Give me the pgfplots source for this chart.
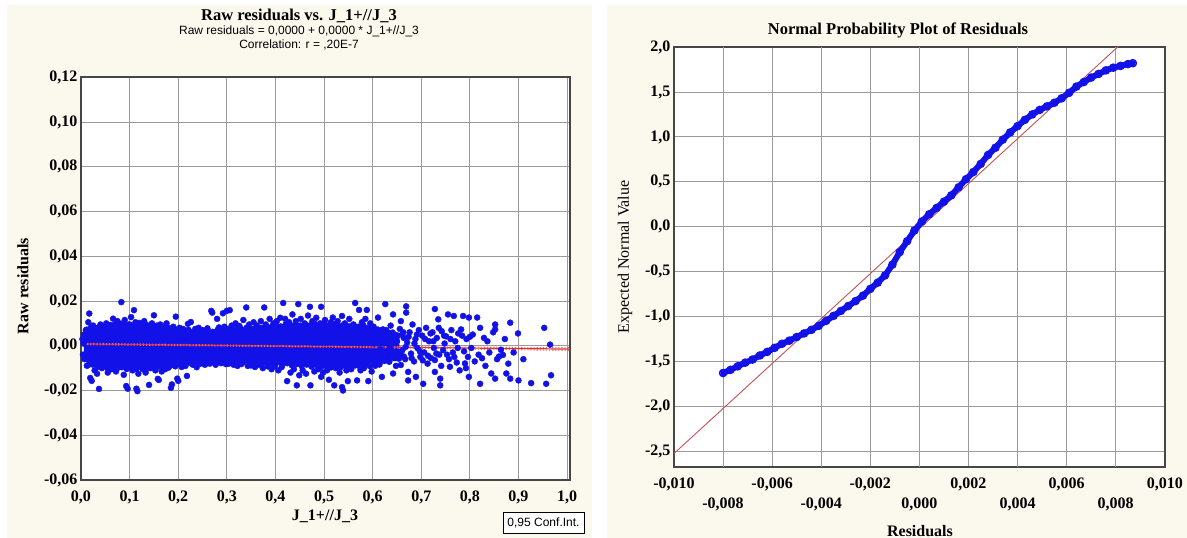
\documentclass[border=0pt]{standalone}
\usepackage{fontspec}
\setmainfont{Liberation Serif}
\setsansfont{Liberation Sans}
\usepackage{pgfplots}
\pgfplotsset{compat=1.18}
\definecolor{panel}{RGB}{251,248,238}
\definecolor{dotblue}{RGB}{18,18,232}
\definecolor{fitred}{RGB}{222,48,48}
\definecolor{linered}{RGB}{196,84,84}
\definecolor{gridgray}{RGB}{155,155,155}
\definecolor{framegray}{RGB}{70,70,70}

\pgfplotsset{
  panelstyle/.style={
    scale only axis, anchor=south west,
    axis background/.style={fill=white},
    axis line style={framegray, line width=1.3pt},
    grid=major, major grid style={gridgray, line width=0.9pt},
    major tick length=0pt, tick style={draw=none},
    scaled ticks=false,
    tick label style={font=\fontsize{16}{18}\selectfont\bfseries},
    x tick label style={yshift=-7pt},
  }
}

\begin{document}
\begin{tikzpicture}[x=1pt,y=1pt]
\path[use as bounding box] (0,0) rectangle (1187,538);
\fill[white] (0,0) rectangle (1187,538);
\fill[panel] (7,0) rectangle (592,533);
\fill[panel] (607,0) rectangle (1187,533);

% ---- left: raw residuals vs J_1+//J_3
\begin{axis}[panelstyle, at={(81pt,58pt)}, width=489pt, height=403pt,
  xmin=0, xmax=1.006, ymin=-0.06, ymax=0.1201,
  xtick={0,0.1,0.2,0.3,0.4,0.5,0.6,0.7,0.8,0.9,1.0},
  xticklabels={{0,0},{0,1},{0,2},{0,3},{0,4},{0,5},{0,6},{0,7},{0,8},{0,9},{1,0}},
  ytick={-0.06,-0.04,-0.02,0,0.02,0.04,0.06,0.08,0.10,0.12},
  yticklabels={{-0,06},{-0,04},{-0,02},{0,00},{0,02},{0,04},{0,06},{0,08},{0,10},{0,12}},
]
% dense core of the cloud
\addplot[draw=none, fill=dotblue] coordinates {
 (0.006,0.0055) (0.015,0.0075) (0.04,0.0078) (0.07,0.0085) (0.10,0.0085) (0.13,0.0082)
 (0.16,0.0075) (0.19,0.0068) (0.22,0.0062) (0.25,0.0058) (0.28,0.0062) (0.31,0.0068)
 (0.34,0.0072) (0.37,0.0078) (0.40,0.0082) (0.43,0.0088) (0.46,0.0088) (0.49,0.0090)
 (0.52,0.0088) (0.55,0.0085) (0.58,0.0082) (0.61,0.0070) (0.635,0.0055) (0.655,0.004)
 (0.655,-0.004) (0.635,-0.0060) (0.61,-0.0075) (0.58,-0.0085) (0.55,-0.0088) (0.52,-0.0088)
 (0.49,-0.0085) (0.46,-0.0082) (0.43,-0.0078) (0.40,-0.0072) (0.37,-0.0068) (0.34,-0.0065)
 (0.31,-0.0062) (0.28,-0.0065) (0.25,-0.0068) (0.22,-0.0075) (0.19,-0.0085) (0.16,-0.0092)
 (0.13,-0.0095) (0.10,-0.0095) (0.07,-0.0092) (0.04,-0.0088) (0.015,-0.0080) (0.006,-0.0060)
} -- cycle;
% points along the edge of the core
\addplot[only marks, mark=*, mark size=3pt, mark options={draw=dotblue, fill=dotblue}] coordinates {
 (0.012,0.0072) (0.021,0.0085) (0.031,0.0079) (0.041,0.0088) (0.051,0.0082) (0.061,0.0093)
 (0.071,0.0087) (0.081,0.0095) (0.091,0.0087) (0.101,0.0094) (0.111,0.0086) (0.121,0.0092)
 (0.131,0.0084) (0.141,0.0089) (0.151,0.0079) (0.161,0.0084) (0.171,0.0075) (0.181,0.0079)
 (0.191,0.0070) (0.201,0.0075) (0.211,0.0066) (0.221,0.0071) (0.231,0.0063) (0.241,0.0068)
 (0.251,0.0060) (0.261,0.0068) (0.271,0.0062) (0.281,0.0071) (0.291,0.0066) (0.301,0.0075)
 (0.311,0.0070) (0.321,0.0078) (0.331,0.0073) (0.341,0.0081) (0.351,0.0076) (0.361,0.0085)
 (0.371,0.0080) (0.381,0.0088) (0.391,0.0083) (0.401,0.0091) (0.411,0.0086) (0.421,0.0095)
 (0.431,0.0090) (0.441,0.0097) (0.451,0.0090) (0.461,0.0097) (0.471,0.0091) (0.481,0.0098)
 (0.491,0.0092) (0.501,0.0099) (0.511,0.0091) (0.521,0.0097) (0.531,0.0089) (0.541,0.0095)
 (0.551,0.0087) (0.561,0.0093) (0.571,0.0085) (0.581,0.0091) (0.591,0.0080) (0.601,0.0083)
 (0.611,0.0072) (0.621,0.0073) (0.631,0.0060) (0.641,0.0059) (0.651,0.0045) (0.661,0.0050)
 (0.014,-0.0088) (0.024,-0.0084) (0.034,-0.0096) (0.044,-0.0090) (0.054,-0.0099) (0.064,-0.0093)
 (0.074,-0.0102) (0.084,-0.0096) (0.094,-0.0104) (0.104,-0.0097) (0.114,-0.0104) (0.124,-0.0097)
 (0.134,-0.0104) (0.144,-0.0096) (0.154,-0.0102) (0.164,-0.0093) (0.174,-0.0098) (0.184,-0.0089)
 (0.194,-0.0092) (0.204,-0.0082) (0.214,-0.0086) (0.224,-0.0076) (0.234,-0.0080) (0.244,-0.0070)
 (0.254,-0.0076) (0.264,-0.0068) (0.274,-0.0074) (0.284,-0.0066) (0.294,-0.0072) (0.304,-0.0064)
 (0.314,-0.0071) (0.324,-0.0065) (0.334,-0.0073) (0.344,-0.0067) (0.354,-0.0075) (0.364,-0.0069)
 (0.374,-0.0077) (0.384,-0.0072) (0.394,-0.0080) (0.404,-0.0074) (0.414,-0.0084) (0.424,-0.0078)
 (0.434,-0.0088) (0.444,-0.0082) (0.454,-0.0091) (0.464,-0.0084) (0.474,-0.0093) (0.484,-0.0086)
 (0.494,-0.0095) (0.504,-0.0088) (0.514,-0.0097) (0.524,-0.0090) (0.534,-0.0097) (0.544,-0.0090)
 (0.554,-0.0097) (0.564,-0.0088) (0.574,-0.0095) (0.584,-0.0086) (0.594,-0.0091) (0.604,-0.0078)
 (0.614,-0.0084) (0.624,-0.0068) (0.634,-0.0070) (0.644,-0.0055) (0.654,-0.0058) (0.664,-0.0048)
};
% scattered points
\addplot[only marks, mark=*, mark size=3pt, mark options={draw=dotblue, fill=dotblue}] coordinates {
 (0.003,0.0030) (0.004,-0.0040) (0.006,0.0050) (0.007,-0.0060) (0.005,0.0010) (0.010,0.0070)
 (0.012,-0.0089) (0.015,0.0105) (0.017,0.0144) (0.019,-0.0144) (0.022,-0.0157) (0.025,0.0090)
 (0.028,-0.0110) (0.030,0.0080) (0.033,-0.0125) (0.037,-0.0193) (0.040,0.0095) (0.043,-0.0100)
 (0.046,0.0085) (0.050,-0.0092) (0.052,0.0100) (0.055,-0.0120) (0.058,0.0090) (0.062,-0.0105)
 (0.065,-0.0104) (0.066,0.0121) (0.070,0.0095) (0.072,-0.0115) (0.075,0.0110) (0.078,-0.0095)
 (0.080,0.0090) (0.083,0.0195) (0.086,0.0100) (0.088,-0.0130) (0.090,0.0115) (0.093,-0.0180)
 (0.096,-0.0192) (0.098,0.0095)
 (0.103,0.0128) (0.106,-0.0110) (0.109,0.0159) (0.112,0.0105) (0.114,-0.0192) (0.116,-0.0203)
 (0.118,-0.0125) (0.120,0.0102) (0.124,0.0095) (0.127,-0.0105) (0.130,0.0110) (0.133,-0.0120)
 (0.136,0.0092) (0.140,-0.0175) (0.143,-0.0100) (0.146,0.0100) (0.150,0.0136) (0.153,-0.0110)
 (0.156,0.0090) (0.158,-0.0148) (0.160,-0.0153) (0.163,0.0095) (0.166,-0.0115) (0.170,0.0085)
 (0.173,-0.0105) (0.176,0.0100) (0.180,-0.0098) (0.185,-0.0188) (0.187,-0.0173) (0.190,0.0085)
 (0.195,0.0130) (0.198,-0.0147) (0.200,-0.0157)
 (0.203,0.0080) (0.207,-0.0095) (0.210,0.0075) (0.215,-0.0090) (0.218,-0.0135) (0.220,0.0098)
 (0.226,0.0106) (0.230,-0.0085) (0.235,0.0075) (0.238,-0.0096) (0.242,0.0080) (0.246,-0.0080)
 (0.250,0.0070) (0.255,-0.0085) (0.260,0.0078) (0.265,-0.0080) (0.268,0.0156) (0.270,0.0148)
 (0.274,-0.0075) (0.277,-0.0085) (0.280,0.0120) (0.284,0.0082) (0.288,-0.0078) (0.292,0.0145)
 (0.295,0.0085) (0.298,-0.0082) (0.300,0.0156)
 (0.304,-0.0080) (0.306,0.0159) (0.310,0.0090) (0.314,-0.0085) (0.318,0.0100) (0.322,-0.0090)
 (0.326,0.0088) (0.330,-0.0082) (0.334,0.0115) (0.340,0.0171) (0.343,-0.0090) (0.346,0.0095)
 (0.350,-0.0088) (0.355,0.0105) (0.358,-0.0095) (0.362,0.0090) (0.366,-0.0085) (0.370,0.0110)
 (0.374,-0.0100) (0.377,0.0171) (0.380,0.0095) (0.384,-0.0092) (0.388,0.0120) (0.392,-0.0105)
 (0.396,0.0100) (0.399,-0.0090)
 (0.403,0.0110) (0.406,-0.0110) (0.410,0.0125) (0.413,-0.0095) (0.416,0.0191) (0.420,0.0120)
 (0.424,-0.0158) (0.428,0.0105) (0.431,-0.0120) (0.435,0.0140) (0.438,-0.0105) (0.442,0.0110)
 (0.444,-0.0177) (0.447,0.0186) (0.449,-0.0132) (0.452,0.0120) (0.456,-0.0110) (0.460,0.0100)
 (0.463,-0.0125) (0.467,0.0135) (0.471,0.0174) (0.472,-0.0177) (0.476,0.0110) (0.480,-0.0115)
 (0.484,0.0125) (0.488,-0.0105) (0.492,0.0100) (0.494,0.0174) (0.494,-0.0139) (0.498,-0.0120)
 (0.502,0.0115) (0.506,-0.0110) (0.510,-0.0152) (0.514,0.0105) (0.518,0.0126) (0.521,-0.0177)
 (0.524,-0.0100) (0.528,0.0110) (0.532,-0.0120) (0.537,0.0133) (0.537,-0.0185) (0.539,-0.0200)
 (0.543,0.0100) (0.546,-0.0110) (0.549,-0.0158) (0.552,0.0120) (0.556,-0.0105) (0.560,0.0095)
 (0.564,0.0191) (0.568,-0.0155) (0.572,0.0160) (0.575,-0.0110) (0.578,0.0105) (0.582,-0.0100)
 (0.585,0.0120) (0.588,0.0160) (0.591,-0.0158) (0.595,0.0100) (0.598,-0.0115)
 (0.602,0.0085) (0.605,-0.0090) (0.608,0.0060) (0.611,0.0126) (0.614,-0.0075) (0.617,0.0040)
 (0.619,-0.0139) (0.622,-0.0050) (0.626,0.0186) (0.628,0.0070) (0.631,-0.0060) (0.634,-0.0071)
 (0.637,0.0090) (0.640,-0.0030) (0.642,0.0140) (0.642,-0.0124) (0.645,0.0050) (0.648,-0.0090)
 (0.650,0.0020) (0.653,-0.0045) (0.656,0.0075) (0.658,0.0110) (0.658,-0.0086) (0.661,-0.0020)
 (0.664,0.0035) (0.667,-0.0060) (0.669,0.0176) (0.669,0.0148) (0.671,0.0015) (0.673,-0.0117)
 (0.673,-0.0155) (0.676,0.0060) (0.679,-0.0035) (0.682,0.0095) (0.685,-0.0070) (0.688,0.0030)
 (0.689,-0.0139) (0.692,-0.0010) (0.695,0.0070) (0.698,-0.0050)
 (0.603,0.0010) (0.607,-0.0030) (0.612,0.0025) (0.616,-0.0015) (0.621,0.0045) (0.625,-0.0035)
 (0.630,0.0015) (0.636,-0.0010) (0.641,0.0030) (0.646,-0.0055) (0.652,0.0045) (0.657,-0.0030)
 (0.663,0.0060) (0.668,-0.0005) (0.674,0.0040) (0.680,-0.0055) (0.686,0.0010) (0.691,0.0050)
 (0.697,-0.0025) (0.703,-0.0065) (0.708,0.0030) (0.714,-0.0045) (0.719,0.0055) (0.725,0.0020)
 (0.731,-0.0035) (0.736,0.0080) (0.741,-0.0090) (0.747,0.0045) (0.753,-0.0040) (0.760,0.0030)
 (0.768,-0.0050) (0.775,-0.0010) (0.784,0.0045) (0.792,-0.0100) (0.800,0.0040)
 (0.702,0.0045) (0.704,-0.0170) (0.706,-0.0030) (0.710,0.0080) (0.713,-0.0080) (0.716,0.0020)
 (0.720,-0.0055) (0.723,0.0060) (0.726,-0.0010) (0.728,0.0164) (0.728,-0.0064) (0.728,-0.0117)
 (0.732,0.0035) (0.735,0.0118) (0.737,-0.0040) (0.739,-0.0147) (0.739,-0.0177) (0.742,0.0065)
 (0.745,-0.0020) (0.748,0.0010) (0.751,0.0042) (0.755,0.0140) (0.757,-0.0060) (0.759,-0.0094)
 (0.762,0.0070) (0.765,-0.0030) (0.767,0.0133) (0.770,0.0020) (0.773,-0.0075) (0.776,0.0055)
 (0.779,-0.0110) (0.782,0.0073) (0.786,0.0133) (0.788,-0.0025) (0.790,-0.0079) (0.793,0.0030)
 (0.796,-0.0050) (0.798,0.0126) (0.798,-0.0139)
 (0.803,-0.0010) (0.806,0.0050) (0.810,-0.0070) (0.815,0.0126) (0.818,-0.0040) (0.821,0.0080)
 (0.821,-0.0170) (0.825,-0.0056) (0.829,0.0035) (0.832,-0.0090) (0.836,0.0020) (0.840,-0.0030)
 (0.844,-0.0124) (0.848,0.0060) (0.852,0.0095) (0.852,0.0073) (0.852,-0.0147) (0.856,-0.0060)
 (0.860,-0.0048) (0.864,-0.0018) (0.868,-0.0041) (0.872,0.0030) (0.875,-0.0124) (0.879,-0.0080)
 (0.883,0.0103) (0.883,-0.0147) (0.890,-0.0030) (0.899,0.0055) (0.900,-0.0155) (0.910,-0.0060)
 (0.926,-0.0167) (0.953,0.0080) (0.957,-0.0170) (0.965,0.0005) (0.967,-0.0132)
};
% fitted line and 0.95 confidence band
\addplot[fitred, line width=1.2pt] coordinates {(0,0.0008) (1.006,-0.0015)};
\addplot[fitred!75, line width=1.1pt, dotted] coordinates {(0,0.0011) (0.5,-0.0002) (1.006,-0.0009)};
\addplot[fitred!75, line width=1.1pt, dotted] coordinates {(0,0.0005) (0.5,-0.0006) (1.006,-0.0021)};
\end{axis}

% ---- right: normal probability plot
\begin{axis}[panelstyle, at={(674pt,71pt)}, width=491pt, height=420pt,
  xmin=-0.010, xmax=0.01001, ymin=-2.67, ymax=2.0,
  xtick={-0.010,-0.006,-0.002,0.002,0.006,0.010},
  xticklabels={{-0,010},{-0,006},{-0,002},{0,002},{0,006},{0,010}},
  extra x ticks={-0.008,-0.004,0,0.004,0.008},
  extra x tick labels={{-0,008},{-0,004},{0,000},{0,004},{0,008}},
  extra x tick style={grid=major, x tick label style={yshift=-20pt}},
  ytick={-2.5,-2,-1.5,-1,-0.5,0,0.5,1,1.5,2},
  yticklabels={{-2,5},{-2,0},{-1,5},{-1,0},{-0,5},{0,0},{0,5},{1,0},{1,5},{2,0}},
]
\addplot[linered, line width=0.9pt] coordinates {(-0.010,-2.52) (0.0084,2.08)};
\addplot[dotblue, line width=6pt, line cap=round, line join=round,
  mark=o, mark size=3.6pt, mark options={line width=1.4pt}] coordinates {
 (-0.00800,-1.625) (-0.00770,-1.59) (-0.00740,-1.55) (-0.00710,-1.51) (-0.00680,-1.475)
 (-0.00650,-1.43) (-0.00620,-1.39) (-0.00590,-1.345) (-0.00560,-1.30) (-0.00530,-1.265)
 (-0.00500,-1.225) (-0.00470,-1.185) (-0.00440,-1.145) (-0.00410,-1.10) (-0.00380,-1.045)
 (-0.00350,-0.99) (-0.00320,-0.935) (-0.00290,-0.88) (-0.00260,-0.825) (-0.00230,-0.765)
 (-0.00200,-0.69) (-0.00170,-0.62) (-0.00140,-0.54) (-0.00110,-0.42) (-0.00080,-0.28)
 (-0.00050,-0.16) (-0.00020,-0.04) (0.00010,0.06) (0.00040,0.14) (0.00070,0.21)
 (0.00100,0.28) (0.00130,0.35) (0.00160,0.44) (0.00190,0.53) (0.00220,0.61)
 (0.00250,0.70) (0.00280,0.80) (0.00310,0.88) (0.00340,0.97) (0.00370,1.05)
 (0.00400,1.12) (0.00430,1.19) (0.00460,1.25) (0.00490,1.30) (0.00520,1.34)
 (0.00550,1.38) (0.00580,1.43) (0.00610,1.49) (0.00640,1.56) (0.00670,1.61)
 (0.00700,1.66) (0.00730,1.70) (0.00760,1.74) (0.00790,1.77) (0.00820,1.79)
 (0.00850,1.81) (0.00870,1.82)
};
\end{axis}

% ---- titles and labels
\node[font=\fontsize{16.5}{18}\selectfont\bfseries] at (299,522) {Raw residuals vs. J\_1+//J\_3};
\node[font=\sffamily\fontsize{12}{14}\selectfont] at (299,507) {Raw residuals = 0,0000 + 0,0000 * J\_1+//J\_3};
\node[font=\sffamily\fontsize{12}{14}\selectfont] at (299,493) {Correlation: r = ,20E-7};
\node[font=\fontsize{16}{18}\selectfont\bfseries, rotate=90] at (23,252) {Raw residuals};
\node[font=\fontsize{16}{18}\selectfont\bfseries] at (325,22) {J\_1+//J\_3};
\node[draw=black, line width=0.7pt, fill=white, inner sep=3pt, minimum width=81pt, minimum height=21pt,
  font=\sffamily\fontsize{12}{14}\selectfont] at (543.5,15) {0,95 Conf.Int.};

\node[font=\fontsize{16.5}{18}\selectfont\bfseries] at (898,508) {Normal Probability Plot of Residuals};
\node[font=\fontsize{16}{18}\selectfont, rotate=90] at (625,281) {Expected Normal Value};
\node[font=\fontsize{16}{18}\selectfont\bfseries] at (920,7) {Residuals};
\end{tikzpicture}
\end{document}
